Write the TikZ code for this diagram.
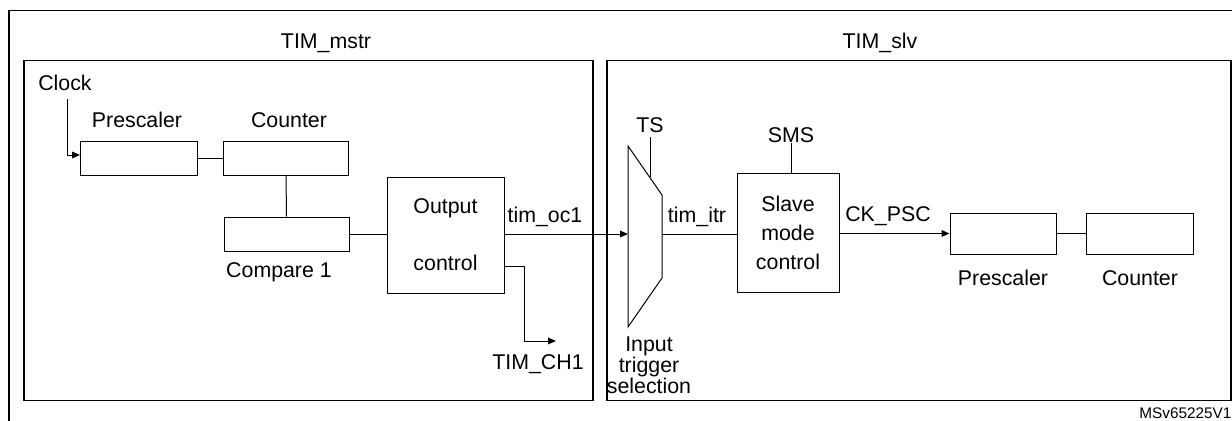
\documentclass[tikz,border=0pt]{standalone}
\usepackage{fontspec}
\setmainfont{Liberation Sans}
\usetikzlibrary{arrows.meta}

\tikzset{every picture/.style={line width=0.75pt}}
\tikzset{
  frame/.style={line width=1.4pt},
  blk/.style={draw, rectangle, inner sep=0pt, align=center, font=\fontsize{16}{21.75}\selectfont},
  lbl/.style={inner sep=0pt, align=center, font=\fontsize{16}{19}\selectfont},
  sig/.style={-{Triangle[length=6pt,width=5pt]}},
}

\begin{document}
\begin{tikzpicture}[x=0.75pt,y=0.75pt,yscale=-1,xscale=1]
	\useasboundingbox (0,0) rectangle (1232,421);
	\clip (0,0) rectangle (1232,421);

	%Shape: Rectangle [outer frame]
	\draw [frame] (9,440) -- (9,10.5) -- (1250,10.5) ;
	%Shape: Rectangle [master]
	\draw [frame] (24,60.5) rectangle (593,400.5) ;
	%Shape: Rectangle [slave]
	\draw [frame] (607,60.5) rectangle (1231,400.5) ;

	%Shape: Rectangle [master blocks]
	\node [blk, minimum width=87.75pt, minimum height=25.5pt] (pscA) at (139,158) {};
	\node [blk, minimum width=93.75pt, minimum height=25.5pt] (cntA) at (286,158) {};
	\node [blk, minimum width=93.75pt, minimum height=25.5pt] (cmpA) at (286.5,234) {};
	\node [blk, minimum width=87.75pt, minimum height=87pt] (outc) at (445.5,235) {Output\\[21pt]control};
	%Shape: Trapezoid [trigger selection]
	\draw (628,146) -- (662,195) -- (662,278) -- (628,327) -- cycle ;
	\coordinate (muxin) at (628,234);
	\coordinate (muxout) at (662,234);
	%Shape: Rectangle [slave blocks]
	\node [blk, minimum width=76.5pt, minimum height=89.25pt] (slave) at (788,232.5) {Slave\\mode\\control};
	\node [blk, minimum width=79.5pt, minimum height=30.75pt] (pscB) at (1003,233.5) {};
	\node [blk, minimum width=80.25pt, minimum height=30.75pt] (cntB) at (1139.5,233.5) {};

	% Text Node
	\node [lbl] (mstr) at (326,43) {TIM\_mstr};
	% Text Node
	\node [lbl] (slv) at (880,43) {TIM\_slv};
	% Text Node
	\node [lbl] (clk) at (65,83) {Clock};
	% Text Node
	\node [lbl] (pscAl) at (137,120) {Prescaler};
	% Text Node
	\node [lbl] (cntAl) at (289,120) {Counter};
	% Text Node
	\node [lbl] (cmpAl) at (279,272) {Compare 1};
	% Text Node
	\node [lbl] (oc) at (545,217) {tim\_oc1};
	% Text Node
	\node [lbl] (ch) at (538,364) {TIM\_CH1};
	% Text Node
	\node [lbl] (ts) at (650,125) {TS};
	% Text Node
	\node [lbl] (sms) at (791,135) {SMS};
	% Text Node
	\node [lbl] (itr) at (697,217) {tim\_itr};
	% Text Node
	\node [lbl] (ckpsc) at (888,216) {CK\_PSC};
	% Text Node
	\node [lbl] (pscBl) at (1003,278) {Prescaler};
	% Text Node
	\node [lbl] (cntBl) at (1140,278) {Counter};
	% Text Node
	\node [lbl, font=\fontsize{16}{15.75}\selectfont] (its) at (649,365) {Input\\trigger\\selection};
	% Text Node
	\node [anchor=east, inner sep=0pt, font=\fontsize{11.5}{13}\selectfont] (msv) at (1232,413) {MSv65225V1};

	%Straight Lines [clock]
	\coordinate (clkin) at (67,99);
	\draw [sig] (clkin) |- ([yshift=-2.25pt]pscA.west) ;
	%Straight Lines
	\draw (pscA) -- (cntA) ;
	\draw (cntA.south) -- (cmpA.north) ;
	\draw (cmpA.east) -- (cmpA.east -| outc.west) ;
	%Straight Lines [tim_oc1]
	\draw [sig] (outc.east |- muxin) -- (muxin) ;
	%Straight Lines [TIM_CH1]
	\coordinate (ch1) at (556,341);
	\draw [sig] (outc.east |- 0,266) -- (524.5,266) |- (ch1) ;
	%Straight Lines [tim_itr]
	\draw (muxout) -- (muxout -| slave.west) ;
	%Straight Lines [CK_PSC]
	\draw [sig] (slave.east |- pscB.west) -- (pscB.west) ;
	\draw (pscB) -- (cntB) ;
	%Straight Lines [TS, SMS]
	\draw (ts.south |- 0,137) -- (ts.south |- 0,177) ;
	\draw (sms.south) -- (sms.south |- slave.north) ;

\end{tikzpicture}
\end{document}
